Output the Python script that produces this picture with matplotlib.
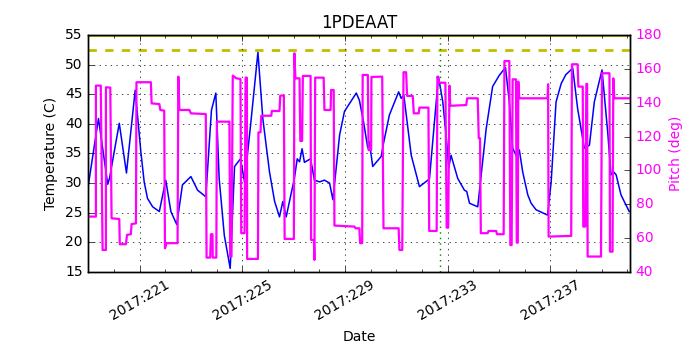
import matplotlib
matplotlib.use("Agg")
import matplotlib.pyplot as plt
from matplotlib.ticker import FixedLocator, MultipleLocator, FuncFormatter

# day of year 2017 vs 1PDEAAT temperature (C)
temp_days = [219.0, 219.40, 219.76, 219.83, 220.21, 220.49, 220.83, 221.05, 221.18, 221.31, 221.51, 221.77,
             222.02, 222.22, 222.45, 222.67, 223.00, 223.26, 223.58, 223.80, 223.97, 224.10,
             224.30, 224.53, 224.70, 224.93, 225.09, 225.35, 225.61, 225.80, 226.06, 226.26,
             226.45, 226.58, 226.71, 227.03, 227.14, 227.23, 227.33, 227.42, 227.66, 227.81,
             228.01, 228.20, 228.40, 228.53, 228.79, 228.98, 229.44, 229.56, 229.72, 229.89,
             229.95, 230.08, 230.41, 230.50, 230.73, 231.09, 231.19, 231.29, 231.58, 231.90,
             232.29, 232.64, 232.81, 232.96, 233.04, 233.13, 233.39, 233.65, 233.74, 233.85,
             234.17, 234.50, 234.75, 235.01, 235.25, 235.40, 235.53, 235.66, 235.79, 235.92,
             236.12, 236.25, 236.44, 236.89, 237.03, 237.22, 237.42, 237.60, 237.87, 238.06, 238.32, 238.52,
             238.71, 239.01, 239.23, 239.36, 239.46, 239.56, 239.75, 240.07]
temp_vals = [29.5, 40.9, 29.8, 30.8, 40.1, 31.7, 45.7, 35.3, 30.2, 27.4, 26.0, 25.2,
             30.5, 25.2, 23.0, 29.7, 31.1, 28.8, 27.7, 42.3, 45.2, 30.8,
             21.2, 15.6, 32.8, 34.1, 30.2, 40.9, 52.1, 40.9, 31.9, 26.9,
             24.3, 26.9, 24.3, 30.8, 34.1, 33.6, 35.8, 33.5, 34.1, 30.5,
             30.2, 30.5, 30.0, 27.2, 38.1, 42.1, 45.2, 44.0, 40.4, 35.9,
             37.0, 32.8, 34.5, 36.7, 41.5, 45.4, 44.3, 44.9, 34.7, 29.4,
             30.7, 48.0, 43.7, 37.0, 32.6, 34.7, 30.8, 28.8, 28.6, 26.6,
             26.0, 39.2, 46.3, 48.2, 49.5, 43.7, 35.9, 34.7, 35.6, 31.9,
             28.0, 26.6, 25.5, 24.6, 30.2, 43.7, 46.8, 48.3, 49.4, 42.6, 35.9, 36.4,
             43.7, 49.1, 38.7, 31.4, 31.9, 31.4, 28.0, 25.2]

# pitch (deg)
pitch_days = [219.0, 219.30, 219.30, 219.49, 219.56, 219.69, 219.69, 219.86, 219.91, 220.21,
              220.23, 220.47, 220.51, 220.66, 220.69, 220.86, 220.88, 221.44, 221.47, 221.77,
              221.81, 221.96, 221.99, 222.05, 222.48, 222.51, 222.55, 222.94, 223.00, 223.58,
              223.61, 223.75, 223.78, 223.84, 223.85, 223.99, 224.01, 224.50, 224.53, 224.58,
              224.63, 224.77, 224.93, 224.96, 225.09, 225.13, 225.18, 225.19, 225.61, 225.63,
              225.71, 225.74, 226.13, 226.15, 226.45, 226.48, 226.62, 226.65, 227.01, 227.03,
              227.07, 227.23, 227.26, 227.33, 227.36, 227.66, 227.68, 227.79, 227.81, 227.84,
              228.17, 228.20, 228.44, 228.46, 228.56, 228.59, 229.37, 229.41, 229.56, 229.59,
              229.67, 229.69, 229.89, 229.92, 230.02, 230.03, 230.45, 230.50, 231.09, 231.12,
              231.23, 231.28, 231.38, 231.42, 231.64, 231.68, 231.87, 231.90, 232.25, 232.28,
              232.57, 232.60, 232.68, 232.91, 232.96, 233.02, 233.07, 233.10, 233.72, 233.76,
              234.17, 234.21, 234.26, 234.29, 234.56, 234.59, 234.89, 234.92, 235.18, 235.21,
              235.40, 235.44, 235.49, 235.53, 235.66, 235.69, 235.73, 235.75, 235.79, 236.89,
              236.91, 236.93, 237.81, 237.84, 238.06, 238.09, 238.26, 238.28, 238.36, 238.40,
              238.43, 238.45, 238.97, 239.01, 239.30, 239.32, 239.42, 239.45, 239.49, 240.07]
pitch_vals = [72.7, 72.7, 150.1, 150.1, 53.0, 53.0, 149.1, 148.9, 71.7, 71.3,
              56.4, 56.4, 61.9, 62.3, 68.3, 68.7, 152.1, 152.1, 139.6, 139.2,
              135.7, 135.3, 54.0, 57.0, 57.0, 155.4, 135.7, 135.7, 133.7, 133.3,
              48.5, 48.5, 62.3, 62.3, 48.5, 48.5, 128.8, 128.8, 49.1, 49.1,
              156.0, 154.4, 154.0, 62.9, 62.9, 154.8, 154.8, 47.7, 47.7, 122.5,
              122.5, 132.3, 132.3, 135.1, 135.1, 144.2, 144.2, 59.5, 59.5, 169.2,
              154.4, 154.4, 117.4, 117.4, 155.8, 155.8, 58.9, 58.9, 47.1, 154.8,
              154.8, 135.7, 135.7, 147.5, 147.5, 67.4, 66.8, 65.8, 65.8, 57.0,
              57.0, 156.4, 156.4, 112.0, 112.0, 155.2, 155.4, 65.8, 65.8, 53.0,
              53.0, 158.0, 158.0, 144.0, 144.0, 133.7, 133.7, 137.1, 137.1, 64.2,
              64.2, 155.4, 151.8, 151.8, 66.2, 66.2, 150.1, 138.2, 138.6, 142.6,
              142.6, 119.0, 119.0, 62.9, 62.9, 64.2, 64.2, 62.3, 62.3, 164.6,
              164.6, 55.9, 55.9, 153.8, 153.8, 57.3, 57.3, 152.4, 142.6, 142.6,
              150.9, 60.9, 61.3, 162.7, 162.7, 149.5, 149.5, 66.8, 66.8, 151.1,
              151.1, 49.1, 49.1, 157.4, 157.4, 52.0, 52.0, 154.4, 142.6, 142.6]

planning_limit = 52.5
yellow_limit = 55.0
now_day = 232.71
major_days = [221, 225, 229, 233, 237]


def main():
    plt.style.use("classic")
    plt.rcParams["font.size"] = 10

    fig = plt.figure(figsize=(7, 3.5), dpi=100)
    ax = fig.add_axes([0.126, 0.223, 0.774, 0.677])

    ax.plot(temp_days, temp_vals, color="b", lw=1.1)
    ax.axhline(planning_limit, color="y", ls="--", lw=2)
    ax.axhline(yellow_limit, color="y", ls="-", lw=2)
    ax.axvline(now_day, color="g", ls=":", lw=1)

    ax.set_xlim(219.0, 240.1)
    ax.set_ylim(15, 55)
    ax.xaxis.set_major_locator(FixedLocator(major_days))
    ax.xaxis.set_minor_locator(MultipleLocator(1))
    ax.xaxis.set_major_formatter(FuncFormatter(lambda x, pos: "2017:%d" % round(x)))
    ax.grid(True)
    ax.set_xlabel("Date", fontsize=10)
    ax.set_ylabel("Temperature (C)", fontsize=10)
    ax.set_title("1PDEAAT", fontsize=12)
    ax.tick_params(labelsize=10)
    for lbl in ax.get_xticklabels():
        lbl.set_rotation(30)
        lbl.set_ha("center")

    ax2 = ax.twinx()
    ax2.plot(pitch_days, pitch_vals, color="#ff00ff", lw=1.6)
    ax2.set_ylim(40, 180)
    ax2.set_xlim(219.0, 240.1)
    ax2.set_ylabel("Pitch (deg)", color="#ff00ff", fontsize=10)
    ax2.tick_params(axis="y", labelcolor="#ff00ff", labelsize=10)

    fig.savefig("out.png", dpi=100)
    plt.close(fig)


if __name__ == "__main__":
    main()
